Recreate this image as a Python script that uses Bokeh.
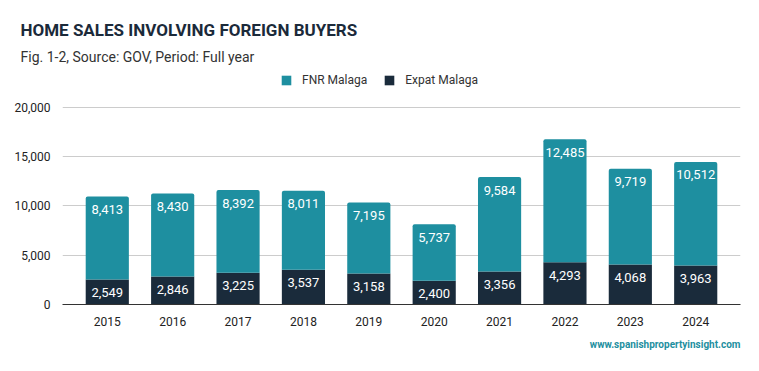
from bokeh.plotting import figure
from bokeh.models import (ColumnDataSource, FactorRange, Range1d, Legend, LegendItem, Title,
                          NumeralTickFormatter, FixedTicker, LabelSet)
from bokeh.core.properties import value
from bokeh.embed import file_html
from bokeh.resources import INLINE

years = ["2015", "2016", "2017", "2018", "2019", "2020", "2021", "2022", "2023", "2024"]
expat_malaga = [2549, 2846, 3225, 3537, 3158, 2400, 3356, 4293, 4068, 3963]
fnr_malaga = [8413, 8430, 8392, 8011, 7195, 5737, 9584, 12485, 9719, 10512]
y_ticks = [0, 5000, 10000, 15000, 20000]

TEAL = "#1e8fa0"
DARK = "#1a2b3b"
FONT = "Roboto"

total = [a + b for a, b in zip(expat_malaga, fnr_malaga)]
src = ColumnDataSource(dict(
    year=years,
    expat=expat_malaga,
    fnr=fnr_malaga,
    total=total,
    expat_lbl=[f"{v:,}" for v in expat_malaga],
    fnr_lbl=[f"{v:,}" for v in fnr_malaga],
))

# frame: window y 66 (top) .. 304 (value 0); 20000 sits at y 107
p = figure(width=759, height=371, output_backend="svg", toolbar_location=None,
           x_range=FactorRange(*years, range_padding=0.037),
           y_range=Range1d(0, 24162),
           min_border_left=62, min_border_right=19, min_border_top=66, min_border_bottom=67)
p.outline_line_color = None
p.background_fill_color = "white"
p.border_fill_color = "white"

r_expat = p.vbar(x="year", top="expat", bottom=0, width=0.66, source=src,
                 fill_color=DARK, line_color=None)
r_fnr = p.vbar(x="year", top="total", bottom="expat", width=0.66, source=src,
               fill_color=TEAL, line_color=None, border_radius=(2, 2, 0, 0))

lbl_kw = dict(text_color="white", text_font=value(FONT), text_font_size="13px",
              text_align="center", text_baseline="middle", y_offset=-13, source=src)
p.add_layout(LabelSet(x="year", y="expat", text="expat_lbl", **lbl_kw))
p.add_layout(LabelSet(x="year", y="total", text="fnr_lbl", **lbl_kw))

# axes
p.xgrid.grid_line_color = None
p.ygrid.grid_line_color = "#cccccc"
p.ygrid.grid_line_width = 1
p.yaxis.ticker = FixedTicker(ticks=y_ticks)
p.yaxis.formatter = NumeralTickFormatter(format="0,0")
p.yaxis.axis_line_color = None
p.yaxis.major_tick_line_color = None
p.yaxis.minor_tick_line_color = None
p.yaxis.major_label_standoff = 6
p.xaxis.axis_line_color = "#333333"
p.xaxis.major_tick_line_color = None
p.xaxis.minor_tick_line_color = None
p.xaxis.major_label_standoff = 6
for ax in (p.xaxis, p.yaxis):
    ax.major_label_text_font = FONT
    ax.major_label_text_font_size = "12px"
    ax.major_label_text_color = "#222222"

# legend inside the (tall) frame, above the 20,000 gridline
legend = Legend(items=[LegendItem(label="FNR Malaga", renderers=[r_fnr]),
                       LegendItem(label="Expat Malaga", renderers=[r_expat])],
                orientation="horizontal", location=(218, 217),
                glyph_width=12, glyph_height=12, label_height=12, label_standoff=10,
                spacing=16, padding=0, margin=0, border_line_color=None,
                background_fill_alpha=0, label_text_font=FONT,
                label_text_font_size="12px", label_text_color="#333333")
p.add_layout(legend, "center")

# subtitle then main title (stacked outward)
p.add_layout(Title(text="Fig. 1-2, Source: GOV, Period: Full year", text_font=FONT,
                   text_font_size="14px", text_font_style="normal", text_color="#333333",
                   align="left", offset=-42, standoff=4), "above")
p.add_layout(Title(text="HOME SALES INVOLVING FOREIGN BUYERS", text_font=FONT,
                   text_font_size="17px", text_font_style="bold", text_color="#1b2a3a",
                   align="left", offset=-42, standoff=10), "above")

# footer
p.add_layout(Title(text="www.spanishpropertyinsight.com", text_font=FONT,
                   text_font_size="10px", text_font_style="bold", text_color=TEAL,
                   align="right", offset=0, standoff=17), "below")

open("out.html", "w").write(file_html(p, INLINE))
